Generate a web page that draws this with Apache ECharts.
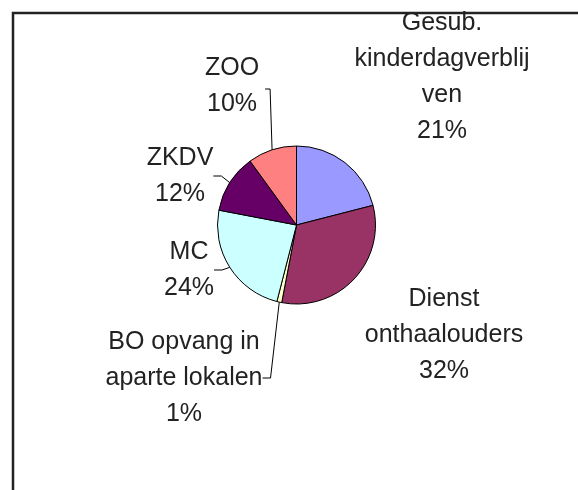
<!DOCTYPE html>
<html>
<head>
<meta charset="utf-8">
<title>Opvangvormen</title>
<script src="https://cdn.jsdelivr.net/npm/echarts@6/dist/echarts.min.js"></script>
<style>
    html, body { margin: 0; padding: 0; background: #fff; }
    #container { width: 578px; height: 490px; }
</style>
</head>
<body>
<div id="container"></div>
<script>
// 数据
var categories = ['Gesub.\nkinderdagverblij\nven', 'Dienst\nonthaalouders', 'BO opvang in\naparte lokalen', 'MC', 'ZKDV', 'ZOO'];
var shares = [21, 32, 1, 24, 12, 10];
var sliceColors = ['#9999FF', '#993366', '#FFFFCC', '#CCFFFF', '#660066', '#FF8080'];
// label centers (px)
var labelSpots = [[442, 77], [444, 335], [184, 378], [189, 270], [180, 176], [232, 86]];
var noLeader = [true, true, false, false, false, false];

var pieCenter = [296.5, 225];
var pieRadius = 79;

var myChart = echarts.init(document.getElementById('container'));

var seriesData = [];
for (var i = 0; i < categories.length; i++) {
    seriesData.push({
        name: categories[i],
        value: shares[i],
        itemStyle: { color: sliceColors[i] },
        labelLine: { show: !noLeader[i] }
    });
}

// middle of a slice on the rim, clockwise from 12 o'clock
function rimPoint(idx) {
    var total = 0, before = 0;
    for (var i = 0; i < shares.length; i++) {
        total += shares[i];
        if (i < idx) before += shares[i];
    }
    var a = (before + shares[idx] / 2) / total * Math.PI * 2;
    return [pieCenter[0] + pieRadius * Math.sin(a), pieCenter[1] - pieRadius * Math.cos(a)];
}

var option = {
    backgroundColor: '#fff',
    animation: false,
    graphic: [
        {
            type: 'rect',
            shape: { x: 13, y: 13, width: 700, height: 600 },
            style: { fill: 'none', stroke: '#222', lineWidth: 2.5 },
            silent: true
        }
    ],
    series: [
        {
            type: 'pie',
            center: pieCenter,
            radius: pieRadius,
            startAngle: 90,
            clockwise: true,
            avoidLabelOverlap: false,
            data: seriesData,
            itemStyle: { borderColor: '#000', borderWidth: 1 },
            label: {
                show: true,
                position: 'outside',
                fontFamily: 'Liberation Sans, Arial, sans-serif',
                fontSize: 25,
                lineHeight: 36,
                color: '#222',
                align: 'center',
                formatter: function (p) {
                    return p.name + '\n' + Math.round(p.percent) + '%';
                }
            },
            labelLine: {
                length: 8,
                length2: 8,
                lineStyle: { color: '#000', width: 1 }
            },
            labelLayout: function (params) {
                var spot = labelSpots[params.dataIndex];
                var res = {
                    x: spot[0],
                    y: spot[1],
                    align: 'center',
                    verticalAlign: 'middle'
                };
                // ZOO: bracket on the right side, like excel
                if (params.dataIndex === 5) {
                    var rim = rimPoint(5);
                    var right = spot[0] + params.labelRect.width / 2 + 6;
                    res.labelLinePoints = [rim, [rim[0] - 2, spot[1] + 3], [right, spot[1] + 3]];
                }
                return res;
            }
        }
    ]
};

if (option && typeof option === 'object') {
    myChart.setOption(option, true);
}
</script>
</body>
</html>
